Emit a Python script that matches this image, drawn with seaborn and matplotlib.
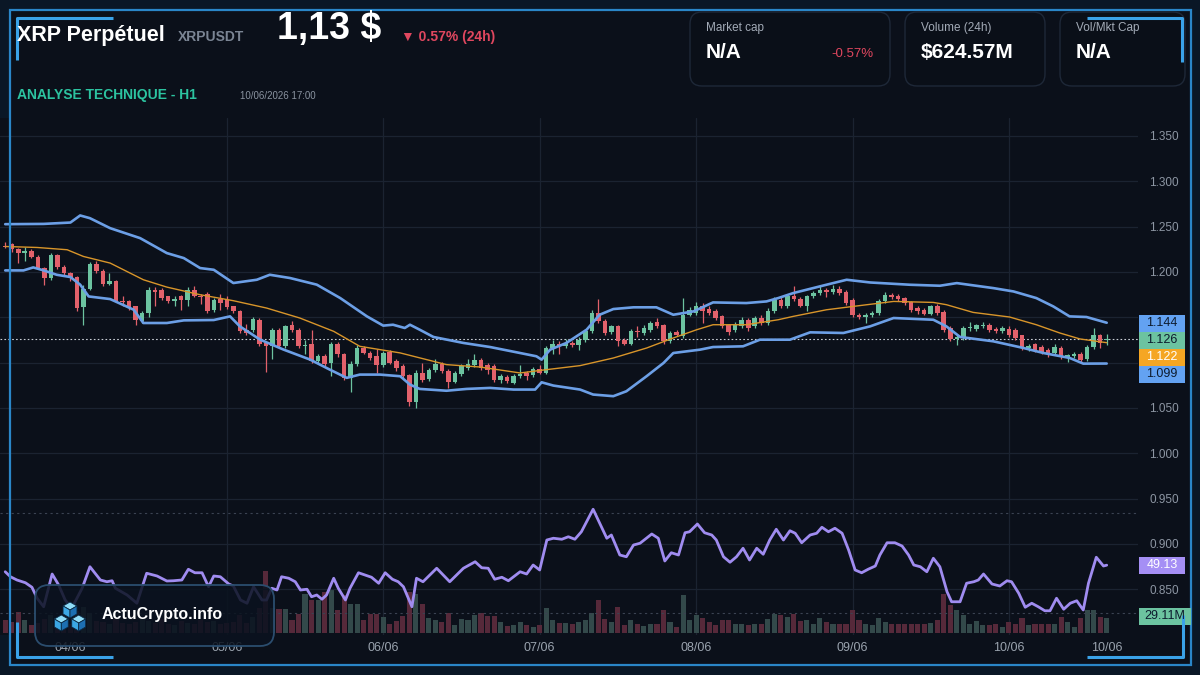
import numpy as np
import seaborn as sns
import matplotlib.pyplot as plt
from matplotlib.patches import Rectangle, FancyBboxPatch, Polygon
from matplotlib.colors import LinearSegmentedColormap

# ---- candles (H1, XRPUSDT) ----
opens = [1.229, 1.231, 1.225, 1.221, 1.223, 1.217, 1.204, 1.193, 1.219, 1.206,
         1.199, 1.194, 1.161, 1.181, 1.209, 1.201, 1.187, 1.190, 1.168, 1.168,
         1.162, 1.146, 1.155, 1.180, 1.180, 1.173, 1.168, 1.173, 1.169, 1.180,
         1.174, 1.176, 1.158, 1.170, 1.169, 1.162, 1.157, 1.136, 1.136, 1.147,
         1.122, 1.118, 1.136, 1.118, 1.141, 1.136, 1.118, 1.120, 1.102, 1.107,
         1.100, 1.121, 1.109, 1.083, 1.098, 1.116, 1.111, 1.107, 1.097, 1.112,
         1.102, 1.096, 1.086, 1.057, 1.089, 1.082, 1.092, 1.098, 1.091, 1.079,
         1.087, 1.094, 1.097, 1.103, 1.097, 1.096, 1.081, 1.084, 1.078, 1.085,
         1.089, 1.086, 1.093, 1.089, 1.116, 1.120, 1.118, 1.122, 1.119, 1.125,
         1.135, 1.155, 1.146, 1.134, 1.140, 1.125, 1.121, 1.135, 1.133, 1.136,
         1.145, 1.142, 1.124, 1.134, 1.129, 1.153, 1.155, 1.163, 1.159, 1.157,
         1.151, 1.141, 1.136, 1.140, 1.147, 1.140, 1.149, 1.144, 1.157, 1.169,
         1.162, 1.173, 1.170, 1.163, 1.173, 1.177, 1.180, 1.178, 1.181, 1.178,
         1.169, 1.153, 1.150, 1.152, 1.155, 1.168, 1.175, 1.173, 1.171, 1.167,
         1.160, 1.158, 1.154, 1.162, 1.156, 1.138, 1.126, 1.127, 1.138, 1.137,
         1.140, 1.142, 1.137, 1.135, 1.137, 1.136, 1.130, 1.116, 1.120, 1.117,
         1.114, 1.111, 1.116, 1.106, 1.107, 1.110, 1.104, 1.117, 1.130, 1.125]
highs = [1.233, 1.232, 1.226, 1.228, 1.225, 1.219, 1.205, 1.221, 1.220, 1.208,
         1.200, 1.196, 1.186, 1.211, 1.212, 1.203, 1.199, 1.191, 1.173, 1.169,
         1.163, 1.157, 1.183, 1.183, 1.182, 1.174, 1.174, 1.175, 1.183, 1.184,
         1.176, 1.178, 1.171, 1.176, 1.174, 1.163, 1.158, 1.143, 1.150, 1.149,
         1.123, 1.138, 1.138, 1.142, 1.146, 1.138, 1.125, 1.136, 1.109, 1.109,
         1.123, 1.123, 1.111, 1.102, 1.119, 1.118, 1.113, 1.115, 1.113, 1.114,
         1.104, 1.098, 1.088, 1.092, 1.100, 1.094, 1.104, 1.101, 1.093, 1.091,
         1.098, 1.104, 1.109, 1.105, 1.100, 1.098, 1.087, 1.086, 1.087, 1.097,
         1.091, 1.095, 1.097, 1.118, 1.125, 1.124, 1.126, 1.124, 1.128, 1.137,
         1.158, 1.170, 1.148, 1.142, 1.142, 1.127, 1.137, 1.140, 1.141, 1.146,
         1.149, 1.143, 1.135, 1.136, 1.171, 1.161, 1.167, 1.166, 1.163, 1.159,
         1.153, 1.143, 1.145, 1.150, 1.149, 1.151, 1.153, 1.160, 1.172, 1.172,
         1.176, 1.184, 1.172, 1.175, 1.179, 1.186, 1.182, 1.186, 1.184, 1.180,
         1.171, 1.155, 1.155, 1.157, 1.170, 1.178, 1.177, 1.176, 1.172, 1.168,
         1.162, 1.160, 1.164, 1.165, 1.158, 1.140, 1.131, 1.140, 1.145, 1.143,
         1.145, 1.144, 1.139, 1.140, 1.140, 1.138, 1.131, 1.121, 1.122, 1.119,
         1.116, 1.120, 1.118, 1.110, 1.112, 1.112, 1.119, 1.138, 1.132, 1.132]
lows = [1.226, 1.222, 1.210, 1.212, 1.215, 1.203, 1.186, 1.191, 1.203, 1.197,
        1.190, 1.157, 1.142, 1.180, 1.199, 1.184, 1.186, 1.167, 1.163, 1.158,
        1.142, 1.144, 1.150, 1.162, 1.169, 1.166, 1.163, 1.158, 1.162, 1.172,
        1.165, 1.155, 1.156, 1.158, 1.159, 1.155, 1.133, 1.131, 1.134, 1.118,
        1.090, 1.104, 1.116, 1.116, 1.134, 1.116, 1.109, 1.100, 1.100, 1.096,
        1.085, 1.106, 1.081, 1.068, 1.096, 1.109, 1.103, 1.089, 1.095, 1.098,
        1.091, 1.083, 1.052, 1.050, 1.079, 1.080, 1.090, 1.089, 1.072, 1.077,
        1.085, 1.092, 1.095, 1.092, 1.087, 1.079, 1.077, 1.078, 1.076, 1.083,
        1.081, 1.084, 1.087, 1.087, 1.110, 1.109, 1.116, 1.117, 1.114, 1.123,
        1.133, 1.144, 1.131, 1.132, 1.118, 1.119, 1.119, 1.128, 1.131, 1.134,
        1.138, 1.120, 1.122, 1.129, 1.127, 1.151, 1.153, 1.144, 1.153, 1.147,
        1.138, 1.131, 1.134, 1.138, 1.135, 1.138, 1.141, 1.142, 1.155, 1.160,
        1.160, 1.168, 1.161, 1.157, 1.171, 1.175, 1.172, 1.176, 1.175, 1.164,
        1.150, 1.148, 1.144, 1.150, 1.153, 1.166, 1.170, 1.168, 1.164, 1.156,
        1.154, 1.152, 1.152, 1.153, 1.134, 1.124, 1.119, 1.125, 1.135, 1.135,
        1.138, 1.134, 1.133, 1.133, 1.128, 1.125, 1.114, 1.113, 1.112, 1.109,
        1.106, 1.109, 1.104, 1.101, 1.105, 1.101, 1.102, 1.115, 1.116, 1.119]
closes = [1.228, 1.225, 1.221, 1.223, 1.217, 1.204, 1.193, 1.219, 1.206, 1.199,
          1.193, 1.160, 1.181, 1.209, 1.201, 1.187, 1.190, 1.168, 1.167, 1.160,
          1.147, 1.155, 1.180, 1.178, 1.171, 1.168, 1.170, 1.169, 1.180, 1.173,
          1.172, 1.157, 1.169, 1.166, 1.161, 1.157, 1.135, 1.133, 1.148, 1.120,
          1.118, 1.136, 1.118, 1.140, 1.136, 1.118, 1.119, 1.102, 1.107, 1.098,
          1.121, 1.109, 1.083, 1.098, 1.116, 1.111, 1.105, 1.097, 1.111, 1.100,
          1.094, 1.085, 1.057, 1.089, 1.081, 1.092, 1.098, 1.091, 1.079, 1.089,
          1.096, 1.099, 1.103, 1.094, 1.092, 1.081, 1.085, 1.080, 1.085, 1.087,
          1.085, 1.093, 1.089, 1.116, 1.120, 1.118, 1.122, 1.119, 1.125, 1.135,
          1.155, 1.146, 1.133, 1.140, 1.124, 1.121, 1.135, 1.134, 1.138, 1.144,
          1.140, 1.124, 1.133, 1.131, 1.153, 1.158, 1.163, 1.157, 1.155, 1.149,
          1.140, 1.134, 1.142, 1.147, 1.138, 1.149, 1.144, 1.157, 1.169, 1.162,
          1.173, 1.170, 1.163, 1.173, 1.177, 1.180, 1.178, 1.181, 1.177, 1.166,
          1.152, 1.150, 1.152, 1.155, 1.168, 1.175, 1.172, 1.170, 1.166, 1.158,
          1.157, 1.154, 1.162, 1.155, 1.136, 1.126, 1.128, 1.138, 1.139, 1.141,
          1.142, 1.136, 1.135, 1.138, 1.130, 1.127, 1.116, 1.118, 1.114, 1.111,
          1.109, 1.117, 1.106, 1.108, 1.109, 1.103, 1.117, 1.130, 1.122, 1.126]
volumes_m = [24.1, 20.9, 39.9, 24.1, 14.6, 19.0, 26.6, 34.2, 22.8, 19.0,
             17.1, 41.8, 49.4, 38.0, 22.8, 20.9, 17.1, 26.6, 19.0, 17.1,
             20.9, 30.4, 22.8, 19.0, 26.6, 17.1, 15.2, 22.8, 19.0, 17.1,
             24.7, 20.9, 22.8, 17.1, 19.0, 20.9, 34.2, 19.0, 30.4, 47.5,
             117.8, 47.5, 46.2, 46.2, 24.1, 36.7, 74.7, 62.1, 62.1, 77.9,
             81.1, 43.1, 71.6, 55.7, 55.7, 24.1, 36.7, 36.7, 30.4, 17.7,
             22.8, 31.7, 77.9, 74.7, 55.7, 29.1, 25.3, 20.9, 38.0, 14.6,
             27.2, 24.1, 33.6, 38.0, 31.7, 31.7, 20.9, 12.7, 14.6, 20.9,
             14.6, 11.4, 14.6, 48.1, 25.3, 19.0, 19.0, 17.7, 20.9, 24.1,
             38.0, 63.3, 27.2, 20.9, 49.4, 14.6, 24.1, 16.5, 12.7, 16.5,
             16.5, 44.3, 20.9, 11.4, 71.6, 24.1, 33.6, 29.1, 20.9, 14.6,
             24.1, 24.1, 16.5, 16.5, 14.6, 16.5, 16.5, 27.2, 35.5, 33.6,
             30.4, 36.7, 22.8, 24.1, 17.7, 29.1, 20.9, 17.7, 17.7, 17.7,
             43.1, 25.3, 16.5, 14.6, 29.1, 20.9, 16.5, 17.7, 16.5, 17.7,
             17.7, 17.7, 19.0, 24.1, 74.7, 52.6, 44.3, 33.6, 16.5, 22.8,
             14.6, 14.6, 16.5, 11.4, 20.9, 17.7, 29.1, 14.6, 16.5, 16.5,
             16.5, 16.5, 30.4, 20.9, 11.4, 29.1, 43.1, 44.3, 30.4, 29.11]

# ---- Bollinger bands (candle index, price) ----
bb_upper_x = [0, 5.9, 10, 11.5, 13, 16.1, 20.7, 24.8, 27.4, 29.9,
              32, 35, 38.6, 40.6, 43.7, 47.8, 51.4, 55.5, 58, 59.5,
              61.3, 62.1, 63.6, 65.7, 70.3, 74.4, 79, 81.5, 82.3, 83.6,
              86.1, 89.2, 91.2, 93.3, 96.4, 99.9, 102.5, 105.6, 108.6, 113.7,
              116.8, 118.6, 120.9, 126, 129.1, 132.7, 138.8, 143.4, 146, 151.6,
              154.7, 158.2, 160.8, 163.3, 165.9, 169]
bb_upper = [1.2527, 1.2530, 1.2545, 1.2623, 1.2593, 1.2483, 1.2373, 1.2208, 1.2153, 1.2043,
            1.2024, 1.1878, 1.1914, 1.1969, 1.1933, 1.1860, 1.1712, 1.1510, 1.1408, 1.1418,
            1.1382, 1.1418, 1.1363, 1.1283, 1.1217, 1.1172, 1.1106, 1.1070, 1.1033, 1.1143,
            1.1217, 1.1363, 1.1528, 1.1591, 1.1610, 1.1610, 1.1528, 1.1565, 1.1664, 1.1657,
            1.1675, 1.1712, 1.1767, 1.1859, 1.1914, 1.1884, 1.1859, 1.1848, 1.1877, 1.1822,
            1.1785, 1.1712, 1.1620, 1.1510, 1.1503, 1.144]
bb_lower_x = [0, 2.8, 4.3, 5.9, 7.9, 10, 11.5, 12.8, 16.1, 19.7,
              21.2, 24.8, 27.4, 32, 34.5, 36, 39.1, 42.7, 46.8, 49.8,
              52.4, 54.4, 57.5, 60.6, 62.1, 63.6, 67.7, 70.8, 74.4, 78,
              81.3, 82.3, 84.1, 88.2, 90.2, 93.3, 95.3, 98.4, 101, 102.5,
              106.6, 108.6, 113.2, 115.8, 120.4, 123.5, 128.6, 132.7, 136.3, 142.4,
              144.4, 146.5, 151.6, 156.2, 159.3, 163.3, 165.4, 169]
bb_lower = [1.2017, 1.2017, 1.2050, 1.2017, 1.1969, 1.1944, 1.1860, 1.1730, 1.1701, 1.1584,
            1.1437, 1.1437, 1.1466, 1.1470, 1.1510, 1.1400, 1.1254, 1.1144, 1.1033, 1.0923,
            1.0832, 1.0868, 1.0868, 1.0850, 1.0758, 1.0710, 1.0690, 1.0710, 1.0721, 1.0703,
            1.0703, 1.0783, 1.0747, 1.0703, 1.0648, 1.0630, 1.0684, 1.0850, 1.0996, 1.1106,
            1.1143, 1.1172, 1.1180, 1.1253, 1.1253, 1.1334, 1.1327, 1.1400, 1.1492, 1.1473,
            1.1400, 1.1283, 1.1235, 1.1162, 1.1106, 1.1052, 1.0989, 1.099]
bb_mid_x = [0, 4.9, 9.5, 12, 16.1, 21.2, 24.8, 29.9, 35, 40.1,
            45.2, 50.4, 54.4, 60.6, 67.7, 72.8, 79, 83.1, 88.2, 93.3,
            98.4, 102.5, 106.1, 108.6, 113.7, 118.6, 120.9, 126, 130.1, 136.3,
            142.4, 144.4, 148.5, 154.1, 158.2, 161.8, 164.9, 169]
bb_mid = [1.2281, 1.2270, 1.2245, 1.2171, 1.2098, 1.1914, 1.1833, 1.1749, 1.1683, 1.1602,
          1.1492, 1.1345, 1.1180, 1.1107, 1.0978, 1.0952, 1.0886, 1.0923, 1.0967, 1.1051,
          1.1161, 1.1272, 1.1363, 1.1418, 1.1418, 1.1473, 1.1510, 1.1583, 1.1620, 1.1675,
          1.1664, 1.1639, 1.1554, 1.1503, 1.1418, 1.1327, 1.1261, 1.122]

# ---- RSI (candle index, value) ----
rsi_x = [0, 0.8, 1.8, 3.1, 4.1, 4.9, 5.9, 7.2, 8.2, 9.2,
         10.2, 11.8, 13.0, 14.6, 15.6, 16.4, 16.9, 18.7, 20.2, 21.7,
         23.3, 24.8, 25.8, 27.1, 28.1, 29.1, 30.2, 31.2, 32.0, 33.0,
         34.3, 35.0, 36.1, 37.1, 38.1, 39.4, 40.1, 40.9, 41.7, 42.4,
         43.5, 44.5, 45.3, 46.3, 47.0, 47.8, 48.6, 49.3, 50.4, 51.1,
         52.2, 52.9, 54.2, 55.2, 56.2, 57.3, 58.3, 59.4, 60.3, 61.1,
         62.4, 63.1, 64.1, 66.2, 68.2, 70.3, 72.1, 73.1, 74.1, 75.1,
         76.2, 77.2, 79.0, 80.0, 81.0, 82.0, 83.1, 84.1, 85.4, 86.4,
         87.4, 88.4, 90.2, 92.3, 93.0, 94.3, 95.3, 96.4, 97.4, 99.2,
         100.2, 101.2, 102.2, 103.3, 104.3, 105.0, 106.2, 107.3, 108.4, 109.1,
         110.2, 111.2, 112.2, 113.2, 114.2, 115.3, 116.3, 117.3, 118.3, 119.4,
         120.4, 121.2, 122.2, 123.5, 124.5, 125.3, 126.3, 127.3, 128.4, 129.4,
         130.4, 131.4, 132.4, 133.5, 134.2, 135.3, 136.5, 137.6, 138.6, 139.4,
         140.4, 141.4, 142.4, 143.4, 144.5, 145.2, 146.5, 147.5, 148.6, 149.3,
         150.1, 151.4, 152.6, 153.7, 154.4, 155.5, 156.5, 157.5, 158.5, 159.5,
         160.3, 161.3, 162.4, 163.4, 164.4, 165.4, 166.2, 167.4, 168.5, 169.0]
rsi = [46.5, 44.5, 43.2, 42.1, 40.3, 35.9, 32.5, 45.6, 41.2, 35.2,
       31.9, 39.9, 48.5, 43.2, 42.5, 42.9, 39.9, 37.2, 33.9, 45.9,
       44.8, 42.8, 42.9, 43.2, 47.5, 46.1, 46.1, 40.5, 44.8, 44.5,
       41.6, 40.8, 35.2, 33.9, 40.5, 35.2, 35.2, 39.9, 39.2, 44.5,
       43.9, 42.5, 39.2, 39.5, 36.5, 37.2, 35.5, 37.2, 43.9, 39.9,
       35.2, 39.9, 46.1, 45.2, 44.3, 41.9, 46.1, 43.5, 42.5, 40.5,
       32.5, 43.9, 42.5, 47.9, 42.5, 47.9, 50.5, 48.1, 47.9, 43.5,
       44.3, 42.9, 46.5, 45.6, 49.2, 47.2, 59.2, 59.9, 59.5, 60.5,
       59.5, 62.5, 71.5, 59.9, 61.2, 53.2, 52.5, 57.2, 57.9, 61.6,
       59.9, 50.8, 54.1, 53.2, 62.1, 62.5, 65.6, 62.1, 61.2, 59.2,
       52.5, 50.3, 52.5, 55.9, 51.2, 55.9, 53.5, 59.2, 63.5, 59.2,
       62.9, 61.9, 58.1, 61.2, 61.9, 64.3, 62.5, 63.9, 61.9, 55.2,
       47.2, 46.1, 47.5, 48.8, 53.2, 58.1, 58.1, 56.8, 53.2, 49.2,
       48.5, 46.5, 51.9, 48.5, 38.5, 34.5, 34.5, 41.9, 42.5, 43.2,
       45.6, 41.6, 40.8, 42.9, 42.5, 37.9, 32.3, 33.9, 32.5, 30.9,
       30.9, 35.9, 31.5, 33.9, 34.9, 31.2, 41.9, 52.3, 48.8, 49.13]

date_ticks = [10, 34, 58, 82, 106, 130, 154, 169]
date_labels = ['04/06', '05/06', '06/06', '07/06', '08/06', '09/06', '10/06', '10/06']
price_ticks = [0.85, 0.90, 0.95, 1.00, 1.05, 1.10, 1.15, 1.20, 1.25, 1.30, 1.35]
# these two labels sit under the value tags on the right edge
hidden_ticks = [1.10, 1.15]

GREEN = '#6cc3a0'
RED = '#e2616b'
BG = '#0b101a'

sns.set_theme(style='dark', rc={
    'axes.facecolor': BG, 'figure.facecolor': '#0a1726',
    'text.color': 'white', 'xtick.color': '#9aa3ae', 'ytick.color': '#8d96a3',
    'axes.edgecolor': BG,
})
plt.rcParams['font.family'] = ['Liberation Sans', 'DejaVu Sans']

fig = plt.figure(figsize=(12, 6.75), dpi=100)
W, H = 1200, 675

# background / header layer (pixel coordinates)
bg = fig.add_axes([0, 0, 1, 1], zorder=0)
bg.set_xlim(0, W)
bg.set_ylim(H, 0)
bg.axis('off')
bg.add_patch(Rectangle((10, 10), 1180, 655, fc=BG, ec='none'))
head_cm = LinearSegmentedColormap.from_list('head', ['#10263c', '#0d1a2a', '#0b111c', '#0b111c'])
bg.imshow(np.linspace(0, 1, 200)[None, :], extent=[10, 1190, 118, 10], cmap=head_cm, aspect='auto', zorder=0)

# chart axes: volume at the base, price and rsi as twins
rect = [0 / W, (H - 635) / H, 1138 / W, (635 - 118) / H]
ax_vol = fig.add_axes(rect, zorder=1)
ax = ax_vol.twinx()
ax_rsi = ax_vol.twinx()

idx = np.arange(len(closes))
o = np.array(opens)
c = np.array(closes)
up = c >= o
cols = np.where(up, GREEN, RED)
vol_cols = np.where(up, '#33494a', '#56293a')

ax_vol.bar(idx, volumes_m, width=0.78, color=vol_cols, linewidth=0)
for xd in date_ticks[1:-1]:
    ax_vol.axvline(xd, color='#1b2331', lw=0.9, zorder=0)
ax_vol.set_ylim(-3.8, 978.5)
ax_vol.set_yticks([])

ax.vlines(idx, lows, highs, colors=cols, lw=0.9, zorder=3)
body = np.maximum(np.abs(c - o), 0.0009)
ax.bar(idx, body, bottom=np.minimum(o, c), width=0.7, color=cols, linewidth=0, zorder=4)
sns.lineplot(x=bb_upper_x, y=bb_upper, ax=ax, color='#6c9fe6', lw=1.9, sort=False, estimator=None, zorder=5)
sns.lineplot(x=bb_lower_x, y=bb_lower, ax=ax, color='#6c9fe6', lw=1.9, sort=False, estimator=None, zorder=5)
sns.lineplot(x=bb_mid_x, y=bb_mid, ax=ax, color='#d8952a', lw=1.0, sort=False, estimator=None, zorder=5)
ax.axhline(closes[-1], color='#c9ced6', ls=(0, (1.5, 2)), lw=0.8, zorder=2)
ax.set_ylim(0.7996, 1.3698)
ax.set_yticks(price_ticks, ['' if t in hidden_ticks else f'{t:.3f}' for t in price_ticks])
ax.tick_params(axis='y', length=0, pad=8, labelsize=8.5, colors='#8d96a3')
ax.grid(axis='y', color='#1b2331', lw=0.9)
ax.set_axisbelow(True)

sns.lineplot(x=rsi_x, y=rsi, ax=ax_rsi, color='#a08cf0', lw=2.0, sort=False, estimator=None)
for lvl in (70, 30):
    ax_rsi.axhline(lvl, color='#3b4352', ls=(0, (2, 3)), lw=0.8, zorder=1)
ax_rsi.set_ylim(21.2, 228)
ax_rsi.set_yticks([])

for a in (ax_vol, ax, ax_rsi):
    a.set_xlim(-0.8, 173.8)
    a.set_ylabel('')
    for s in a.spines.values():
        s.set_visible(False)
ax_vol.set_xticks(date_ticks, date_labels)
ax_vol.tick_params(axis='x', length=0, pad=5, labelsize=9, colors='#9aa3ae')

# overlay layer: frame, header texts, cards, value tags, logo
ov = fig.add_axes([0, 0, 1, 1], zorder=10)
ov.set_xlim(0, W)
ov.set_ylim(H, 0)
ov.axis('off')
ov.patch.set_alpha(0)

ov.add_patch(Rectangle((9.5, 9.5), 1181, 655, fill=False, ec='#2a86c8', lw=1.6))
acc = dict(color='#3aa2e8', lw=2.2, solid_capstyle='butt')
ov.plot([17, 17, 113], [60, 18, 18], **acc)
ov.plot([17, 17, 113], [622, 657, 657], **acc)
ov.plot([1087, 1182, 1182], [18, 18, 62], **acc)
ov.plot([1087, 1183, 1183], [657, 657, 615], **acc)

ov.text(17, 35, 'XRP Perpétuel', fontsize=15.5, fontweight='bold', color='white', va='center')
ov.text(178, 37, 'XRPUSDT', fontsize=10, fontweight='bold', color='#7b8594', va='center')
ov.text(277, 29, '1,13 $', fontsize=27, fontweight='bold', color='white', va='center')
ov.text(401, 37, '▼ 0.57% (24h)', fontsize=10, fontweight='bold', color='#e0475f', va='center')
ov.text(17, 95, 'ANALYSE TECHNIQUE - H1', fontsize=10, fontweight='bold', color='#2cc3a0', va='center')
ov.text(240, 96, '10/06/2026 17:00', fontsize=7, color='#8a93a0', va='center')

cards = [(690, 200, 'Market cap', 'N/A', '-0.57%'),
         (905, 140, 'Volume (24h)', '$624.57M', None),
         (1060, 125, 'Vol/Mkt Cap', 'N/A', None)]
for x0, w, lab, val, chg in cards:
    ov.add_patch(FancyBboxPatch((x0, 12), w, 74, boxstyle='round,pad=0,rounding_size=12',
                                fc='#0a0f18', ec='#1e2838', lw=1))
    ov.text(x0 + 16, 28, lab, fontsize=8.5, color='#a3abb7', va='center')
    ov.text(x0 + 16, 53, val, fontsize=15, fontweight='bold', color='white', va='center')
    if chg:
        ov.text(x0 + w - 17, 54, chg, fontsize=9.5, color='#e0475f', va='center', ha='right')

tags = [(f'{bb_upper[-1]:.3f}', '#63a2f2', '#0d1b2e', 323),
        (f'{closes[-1]:.3f}', GREEN, '#0d1b2e', 340),
        (f'{bb_mid[-1]:.3f}', '#f5a623', 'white', 357),
        (f'{bb_lower[-1]:.3f}', '#63a2f2', '#0d1b2e', 374),
        (f'{rsi[-1]:.2f}', '#a58ff5', 'white', 565),
        (f'{volumes_m[-1]:.2f}M', GREEN, '#0d1b2e', 616)]
for txt, fc, tc, yc in tags:
    ov.add_patch(Rectangle((1139, yc - 8.5), 46 if yc < 600 else 52, 17, fc=fc, ec='none'))
    ov.text(1162 if yc < 600 else 1165, yc, txt, fontsize=9, color=tc, ha='center', va='center')

# logo card
ov.add_patch(FancyBboxPatch((35, 585), 239, 61, boxstyle='round,pad=0,rounding_size=14',
                            fc=(0.04, 0.07, 0.12, 0.85), ec='#2b4d6e', lw=1.3))
s = 8
for cx, cy in [(61.3, 623), (78.7, 623), (70, 610)]:
    k = 0.87 * s
    ov.add_patch(Polygon([(cx, cy - s), (cx + k, cy - s / 2), (cx, cy), (cx - k, cy - s / 2)], fc='#8fdcf7', ec='#0b2a44', lw=0.6))
    ov.add_patch(Polygon([(cx - k, cy - s / 2), (cx, cy), (cx, cy + s), (cx - k, cy + s / 2)], fc='#3ba7e4', ec='#0b2a44', lw=0.6))
    ov.add_patch(Polygon([(cx, cy), (cx + k, cy - s / 2), (cx + k, cy + s / 2), (cx, cy + s)], fc='#1d6fb2', ec='#0b2a44', lw=0.6))
ov.text(102, 615, 'ActuCrypto.info', fontsize=11.5, fontweight='bold', color='white', va='center')

fig.savefig('out.png', dpi=100)
